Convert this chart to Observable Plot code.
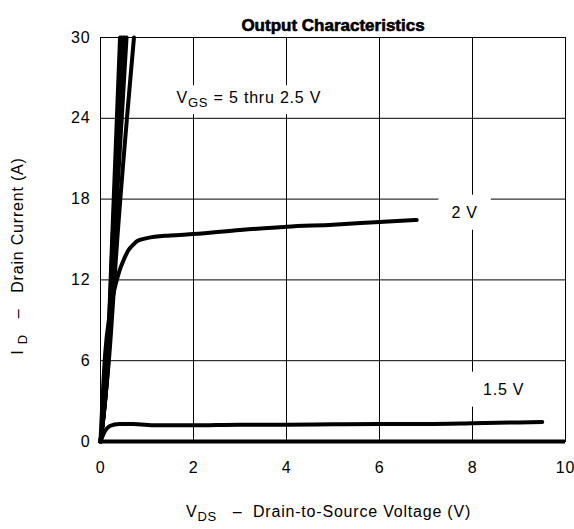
<!DOCTYPE html>
<html><head><meta charset="utf-8">
<script src="https://cdn.jsdelivr.net/npm/d3@7"></script>
<script src="https://cdn.jsdelivr.net/npm/@observablehq/plot@0.6"></script>
<style>body{margin:0;background:#fff}</style>
</head><body><div id="chart"></div>
<script>
// ---- data ----
const xTicks = [0, 2, 4, 6, 8, 10];
const yTicks = [0, 6, 12, 18, 24, 30];
const titleText = "Output Characteristics";

// [VDS (V), ID (A)]
const curve5V   = [[0,0],[0.15,6],[0.25,15],[0.42,30]];
const curve4_5V = [[0,0],[0.15,6],[0.26,15],[0.45,30]];
const curve4V   = [[0,0],[0.16,6],[0.27,15],[0.49,30]];
const curve3_5V = [[0,0],[0.16,6],[0.28,15],[0.52,30]];
const curve3V   = [[0,0],[0.17,6],[0.30,15],[0.56,30]];
const curve2_5V = [[0,0],[0.18,6],[0.36,15],[0.72,30]];
const curve2V   = [[0,0],[0.1,6.5],[0.2,9.5],[0.3,11.3],[0.4,12.6],[0.5,13.5],[0.6,14.2],[0.7,14.6],[0.8,14.9],[1.0,15.1],[1.5,15.3],[2,15.4],[3,15.7],[4,15.95],[5,16.1],[6,16.3],[6.8,16.45]];
const curve1_5V = [[0,0],[0.1,0.8],[0.2,1.15],[0.4,1.3],[0.7,1.3],[1.2,1.2],[2,1.2],[3,1.25],[4,1.25],[5,1.28],[6,1.3],[7,1.3],[8,1.35],[9,1.42],[9.5,1.45]];

const curveNames = ["5 V","4.5 V","4 V","3.5 V","3 V","2.5 V","2 V","1.5 V"];
const curveData  = [curve5V, curve4_5V, curve4V, curve3_5V, curve3V, curve2_5V, curve2V, curve1_5V];

const labels = [
  {x: 3.19, y: 25.5, text: "VGS = 5 thru 2.5 V"},
  {x: 7.83, y: 17.0, text: "2 V"},
  {x: 8.67, y: 3.86, text: "1.5 V"}
];

const rows = curveData.flatMap((pts, i) => pts.map(([vds, id]) => ({vgs: curveNames[i], vds, id})));

const W = 574, H = 529, mL = 100, mR = 9, mT = 37, mB = 88;
const FONT = "'Liberation Sans', Arial, Helvetica, sans-serif";

const plot = Plot.plot({
  width: W, height: H,
  marginLeft: mL, marginRight: mR, marginTop: mT, marginBottom: mB,
  style: {fontFamily: FONT, fontSize: "16px", background: "white", color: "black", overflow: "visible", letterSpacing: "0.8px"},
  x: {domain: [0, 10], ticks: xTicks, tickSize: 0, tickPadding: 20, label: null},
  y: {domain: [0, 30], ticks: yTicks, tickSize: 0, tickPadding: 10, label: null},
  marks: [
    Plot.ruleX(xTicks.slice(1, -1), {stroke: "black", strokeWidth: 1}),
    Plot.ruleY(yTicks.slice(1, -1), {stroke: "black", strokeWidth: 1}),
    Plot.text(labels, {x: "x", y: "y", text: "text", fill: "black", fontSize: 16}),
    Plot.line(rows, {x: "vds", y: "id", z: "vgs", stroke: "black", strokeWidth: 4, curve: "monotone-x"}),
    Plot.frame({stroke: "black", strokeWidth: 1}),
    Plot.ruleY([0], {stroke: "black", strokeWidth: 4}),
    Plot.text([titleText], {frameAnchor: "top", dy: -19, fontWeight: "bold", fontSize: 17, fill: "black", stroke: "black", strokeWidth: 0.6})
  ]
});
document.getElementById("chart").appendChild(plot);

const svg = d3.select(plot);
svg.selectAll("text").filter(function() { return this.textContent === titleText; })
  .style("letter-spacing", "0px");

const labelTexts = new Set(labels.map(d => d.text));
svg.selectAll("text").filter(function() { return labelTexts.has(this.textContent); })
  .each(function() {
    const t = d3.select(this);
    let padX = 13, padY = 9;
    if (this.textContent === "VGS = 5 thru 2.5 V") {
      t.text(null);
      t.append("tspan").text("V");
      t.append("tspan").attr("dy", "4").attr("font-size", "13").text("GS");
      t.append("tspan").attr("dy", "-4").text(" = 5 thru 2.5 V");
      padY = 4;
    }
    const b = this.getBBox();
    const r = document.createElementNS("http://www.w3.org/2000/svg", "rect");
    r.setAttribute("x", b.x - padX);
    r.setAttribute("y", b.y - padY);
    r.setAttribute("width", b.width + 2 * padX);
    r.setAttribute("height", b.height + 2 * padY);
    r.setAttribute("fill", "white");
    const tr = this.getAttribute("transform");
    if (tr) r.setAttribute("transform", tr);
    this.parentNode.insertBefore(r, this);
  });

const cx = (mL + W - mR) / 2;
const xl = svg.append("text").attr("x", cx - 4).attr("y", 517).attr("text-anchor", "middle")
  .attr("font-family", FONT).attr("font-size", 16).attr("letter-spacing", "0.8px").attr("fill", "black");
xl.append("tspan").text("V");
xl.append("tspan").attr("dy", 4).attr("font-size", 13).text("DS");
xl.append("tspan").attr("dy", -4).text("   –  Drain-to-Source Voltage (V)");

const yl = svg.append("text").attr("transform", `translate(23,256) rotate(-90)`).attr("text-anchor", "middle")
  .attr("font-family", FONT).attr("font-size", 16).attr("letter-spacing", "0.8px").attr("fill", "black");
yl.append("tspan").text("I ");
yl.append("tspan").attr("dy", 4).attr("font-size", 13).text("D");
yl.append("tspan").attr("dy", -4).text("   –   Drain Current (A)");
</script></body></html>
